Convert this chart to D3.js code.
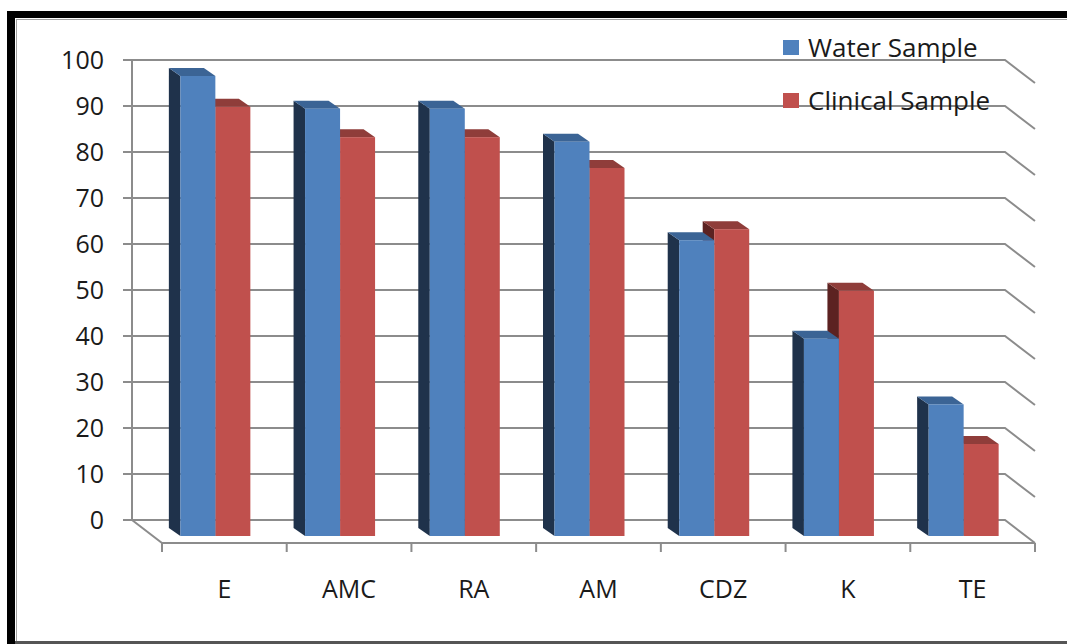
<!DOCTYPE html>
<html>
<head>
<meta charset="utf-8">
<script src="https://cdn.jsdelivr.net/npm/d3@7"></script>
<style>
  html, body { margin: 0; padding: 0; background: #fff; }
  svg { display: block; }
  text { font-family: "Open Sans", "Liberation Sans", sans-serif; fill: #1a1a1a; }
</style>
</head>
<body>
<svg id="chart" width="1067" height="644"></svg>
<script>
// ---- data ----
const categories = ["E", "AMC", "RA", "AM", "CDZ", "K", "TE"];
const seriesNames = ["Water Sample", "Clinical Sample"];
const waterValues = [100, 92.9, 92.9, 85.7, 64.3, 42.9, 28.6];
const clinicalValues = [93.3, 86.7, 86.7, 80, 66.7, 53.3, 20];
const yTicks = [0, 10, 20, 30, 40, 50, 60, 70, 80, 90, 100];

// ---- styles ----
const colors = {
  "Water Sample": { front: "#4F81BD", side: "#1F324B", top: "#3B6495" },
  "Clinical Sample": { front: "#C0504D", side: "#5C2221", top: "#8F3D3A" }
};
const gridColor = "#8c8c8c";

const svg = d3.select("#chart");

// frame
svg.append("rect").attr("x", 7).attr("y", 11).attr("width", 1200).attr("height", 700).attr("fill", "#000");
svg.append("rect").attr("x", 15).attr("y", 18).attr("width", 1200).attr("height", 623).attr("fill", "#fff");
svg.append("line").attr("x1", 16.5).attr("x2", 16.5).attr("y1", 19).attr("y2", 641).attr("stroke", "#a0a0a0").attr("stroke-width", 1);
svg.append("line").attr("x1", 16).attr("x2", 1067).attr("y1", 19.5).attr("y2", 19.5).attr("stroke", "#a0a0a0").attr("stroke-width", 1);
svg.append("rect").attr("x", 15).attr("y", 641).attr("width", 1100).attr("height", 3).attr("fill", "#555");

// scales (back wall plane)
const plotLeft = 132, plotRight = 1005;
const y = d3.scaleLinear().domain([0, 100]).range([520, 60]);
const x = d3.scaleBand().domain(categories).range([plotLeft, plotRight]).padding(0);
const depth = { dx: 30, dy: 23 };        // floor depth (back wall -> front edge)
const barFront = { dx: 21, dy: 16 };     // bar front face offset from back wall
const barBack = { dx: 9.5, dy: 8 };      // bar back face offset from back wall
const groupW = 70;
const sub = d3.scaleBand().domain(seriesNames).range([0, groupW]).padding(0);

const g = svg.append("g");

// gridlines with diagonal into depth at right
yTicks.forEach(t => {
  const yy = y(t);
  g.append("path")
    .attr("d", `M${plotLeft},${yy} L${plotRight},${yy} L${plotRight + depth.dx},${yy + depth.dy}`)
    .attr("fill", "none").attr("stroke", gridColor).attr("stroke-width", 2);
  g.append("line").attr("x1", plotLeft - 9).attr("x2", plotLeft).attr("y1", yy).attr("y2", yy)
    .attr("stroke", gridColor).attr("stroke-width", 2);
});
// vertical axis line
g.append("line").attr("x1", plotLeft).attr("x2", plotLeft).attr("y1", y(100)).attr("y2", y(0))
  .attr("stroke", gridColor).attr("stroke-width", 2);
// floor left diagonal and front edge
g.append("path")
  .attr("d", `M${plotLeft},${y(0)} L${plotLeft + depth.dx},${y(0) + depth.dy} L${plotRight + depth.dx},${y(0) + depth.dy}`)
  .attr("fill", "none").attr("stroke", gridColor).attr("stroke-width", 2);
// category ticks on front edge
const tickXs = categories.map(c => x(c)).concat([plotRight]);
tickXs.forEach(tx => {
  g.append("line").attr("x1", tx + depth.dx).attr("x2", tx + depth.dx)
    .attr("y1", y(0) + depth.dy).attr("y2", y(0) + depth.dy + 9)
    .attr("stroke", gridColor).attr("stroke-width", 2);
});

// y tick labels
g.selectAll(".ylab").data(yTicks).enter().append("text")
  .attr("x", 104).attr("y", d => y(d) + 2)
  .attr("text-anchor", "end").attr("dominant-baseline", "middle")
  .style("font-size", "25px").text(d => d);

// category labels
g.selectAll(".xlab").data(categories).enter().append("text")
  .attr("x", d => x(d) + x.bandwidth() / 2 + depth.dx)
  .attr("y", 598).attr("text-anchor", "middle")
  .style("font-size", "25px").text(d => d);

// bars
const seriesData = { "Water Sample": waterValues, "Clinical Sample": clinicalValues };
const barsG = svg.append("g");
categories.forEach((c, i) => {
  // draw clinical first then water (water is nearer to the viewer on the left)
  ["Clinical Sample", "Water Sample"].forEach(s => {
    const v = seriesData[s][i];
    const bx0 = x(c) + x.bandwidth() / 2 - groupW / 2 + sub(s);
    const bx1 = bx0 + sub.bandwidth();
    const yt = y(v), yb = y(0);
    const col = colors[s];
    const F = (px, py) => [px + barFront.dx, py + barFront.dy];
    const B = (px, py) => [px + barBack.dx, py + barBack.dy];
    const poly = pts => "M" + pts.map(p => p.join(",")).join("L") + "Z";
    // left side face
    barsG.append("path").attr("d", poly([B(bx0, yt), F(bx0, yt), F(bx0, yb), B(bx0, yb)])).attr("fill", col.side);
    // top face
    barsG.append("path").attr("d", poly([B(bx0, yt), B(bx1, yt), F(bx1, yt), F(bx0, yt)])).attr("fill", col.top);
    // front face
    const f0 = F(bx0, yt), f1 = F(bx1, yb);
    barsG.append("rect").attr("x", f0[0]).attr("y", f0[1]).attr("width", f1[0] - f0[0]).attr("height", f1[1] - f0[1]).attr("fill", col.front);
  });
});

// legend
const legend = svg.append("g");
seriesNames.forEach((s, i) => {
  const ly = i === 0 ? 40 : 93;
  legend.append("rect").attr("x", 783).attr("y", ly).attr("width", 16).attr("height", 15).attr("fill", colors[s].front);
  legend.append("text").attr("x", 808).attr("y", ly + 17).style("font-size", "26px").text(s);
});
</script>
</body>
</html>
